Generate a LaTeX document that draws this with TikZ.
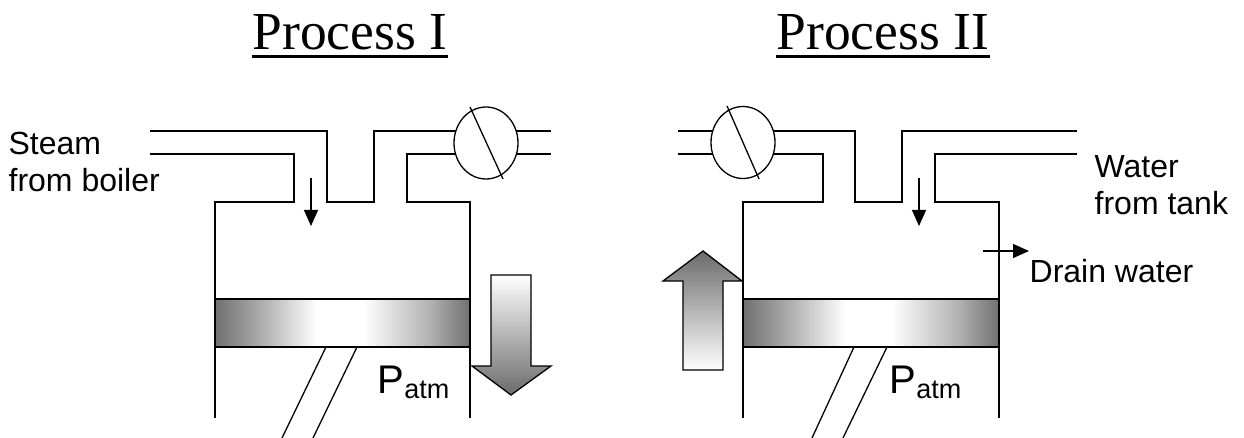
\documentclass[tikz,border=0pt]{standalone}
\usepackage{fontspec}
\setmainfont{Liberation Serif}
\setsansfont{Liberation Sans}
\usetikzlibrary{arrows.meta}
\pgfdeclarehorizontalshading{pistonshade}{100bp}{color(0bp)=(black!56); color(25bp)=(black!56); color(33bp)=(black!35); color(45bp)=(white); color(54bp)=(white); color(67bp)=(black!30); color(75bp)=(black!56); color(100bp)=(black!56)}
\tikzset{
	wall/.style={line width=1.3pt},
	flow/.style={line width=1.3pt,-{Triangle[length=16pt,width=14pt]}},
	lbl/.style={font=\sffamily\fontsize{32}{37}\selectfont,inner sep=0pt,anchor=base west},
	ttl/.style={font=\rmfamily\fontsize{53.5}{60}\selectfont,inner sep=0pt,anchor=base west},
	pat/.style={font=\sffamily\fontsize{40}{44}\selectfont,inner sep=0pt,anchor=base west},
	piston/.style={line width=1.3pt,shading=pistonshade},
	bigarrow/.style={line width=1.3pt,shading=axis}
}

\begin{document}
\begin{tikzpicture}[x=1pt,y=-1pt]
		\useasboundingbox (0,0) rectangle (1244,438);
		\begin{scope}[wall]
			\node[ttl] (T1) at (252,50) {Process I};
			\node[ttl] (T2) at (776,50) {Process II};
			\draw[-,line width=3pt] ([yshift=-7pt]T1.base west) to ([yshift=-7pt]T1.base east);
			\draw[-,line width=3pt] ([yshift=-7pt]T2.base west) to ([yshift=-7pt]T2.base east);
		
			% Process I
			\node[lbl] (S1) at (8,155) {Steam};
			\node[lbl] (S2) at (8,192) {from boiler};
			\draw[-] (150,131) -- (327,131) -- (327,202) -- (374,202) -- (374,131) -- (551,131);
			\draw[-] (150,154) -- (294,154) -- (294,202) -- (215,202) -- (215,418);
			\draw[-] (551,154) -- (407,154) -- (407,202) -- (470,202) -- (470,418);
			\draw[fill=white] (486,143) ellipse [x radius=32, y radius=36];
			\draw[-] (470,107) to (503,179);
			\coordinate (a1) at (311,178);
			\coordinate (a2) at (311,226);
			\draw[flow] (a1) to (a2);
			\shadedraw[piston] (215,299) rectangle (470,347);
			\draw[-] (326,347) to (282,438);
			\draw[-] (357,347) to (313,438);
			\node[pat] (P1) at (377,393) {P\raisebox{-5pt}{\fontsize{27}{30}\selectfont atm}};
			\shadedraw[bigarrow,top color=white,bottom color=black!58] (491,275) -- (531,275) -- (531,366) -- (551,366) -- (511,395) -- (472,366) -- (491,366) -- cycle;
		
			% Process II
			\node[lbl] (W1) at (1094,178) {Water};
			\node[lbl] (W2) at (1094,215) {from tank};
			\node[lbl] (D1) at (1029,282) {Drain water};
			\draw[-] (678,131) -- (855,131) -- (855,202) -- (902,202) -- (902,131) -- (1077,131);
			\draw[-] (678,154) -- (823,154) -- (823,202) -- (743,202) -- (743,418);
			\draw[-] (1077,154) -- (935,154) -- (935,202) -- (999,202) -- (999,418);
			\draw[fill=white] (743,142.5) ellipse [x radius=32, y radius=36];
			\draw[-] (727,106) to (759,179);
			\coordinate (b1) at (919,178);
			\coordinate (b2) at (919,226);
			\draw[flow] (b1) to (b2);
			\coordinate (c1) at (983,251);
			\coordinate (c2) at (1029,251);
			\draw[flow] (c1) to (c2);
			\shadedraw[piston] (743,299) rectangle (999,347);
			\draw[-] (854,347) to (812,438);
			\draw[-] (887,347) to (843,438);
			\node[pat] (P2) at (889,393) {P\raisebox{-5pt}{\fontsize{27}{30}\selectfont atm}};
			\shadedraw[bigarrow,top color=black!58,bottom color=white] (683,370) -- (723,370) -- (723,281) -- (742,281) -- (703,251) -- (663,281) -- (683,281) -- cycle;
		\end{scope}
	\end{tikzpicture}
\end{document}
